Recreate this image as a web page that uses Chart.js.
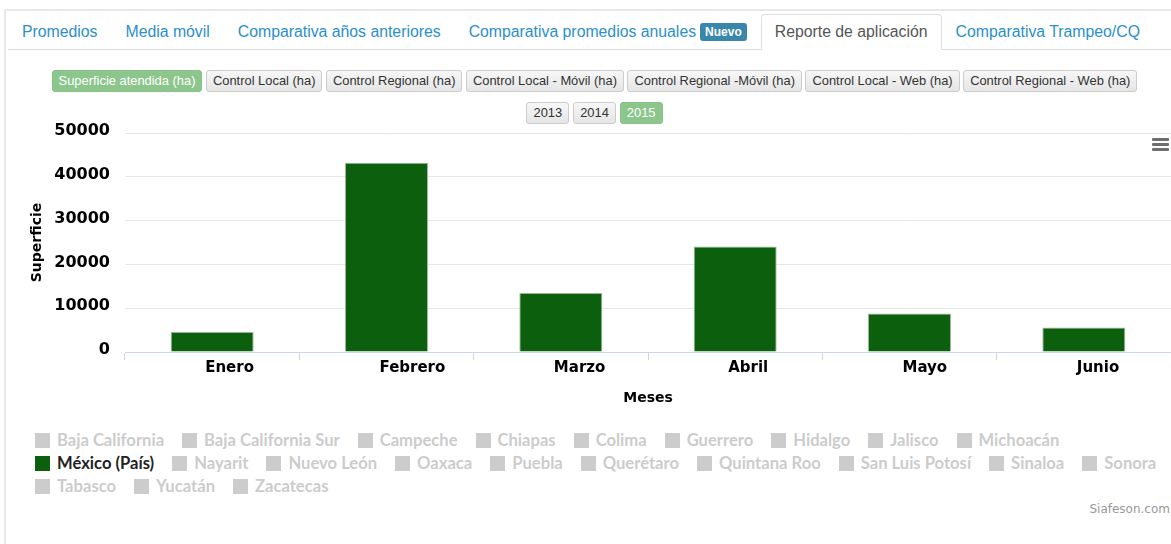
<!DOCTYPE html>
<html><head><meta charset="utf-8">
<script src="https://cdn.jsdelivr.net/npm/chart.js@4.4.1/dist/chart.umd.min.js"></script>
<style>
html,body{margin:0;padding:0;background:#fff;}
body{width:1171px;height:544px;overflow:hidden;position:relative;font-family:"Liberation Sans",Arial,sans-serif;}
#frame{position:absolute;left:4px;top:9px;width:1200px;height:600px;border-left:2px solid #e8e8e8;border-top:2px solid #e8e8e8;}
#tabs{position:absolute;left:8px;top:14px;width:1163px;height:35px;border-bottom:1px solid #ddd;display:flex;align-items:flex-start;}
.tab{box-sizing:border-box;height:36px;padding:0 13px;border:1px solid transparent;border-bottom:none;line-height:34px;font-size:15.8px;color:#2a8fcb;white-space:nowrap;border-radius:4px 4px 0 0;background:transparent;}
.tab.active{border-color:#ddd;color:#555;background:#fff;}
.badge{display:inline-block;vertical-align:1px;margin-left:4px;height:18px;line-height:18px;padding:0 5px;font-size:12px;font-weight:bold;color:#fff;background:#3a87ad;border-radius:3px;}
.row{position:absolute;left:0;width:1189px;display:flex;justify-content:center;}
#row1{top:70px;gap:3.5px;}
#row2{top:102px;gap:4px;}
.btn{box-sizing:border-box;height:22px;line-height:20px;padding:0 6px;border:1px solid #ccc;border-radius:3px;font-size:12.9px;color:#333;background:linear-gradient(#f7f7f7,#e5e5e5);white-space:nowrap;}
.btn.on{background:#8cc68c;border-color:#86c286;color:#fff;}
#chartbox{position:absolute;left:6px;top:120px;width:1165px;height:290px;}
#menu{position:absolute;left:1152px;top:138px;width:17px;}
#menu div{height:3px;background:#6e6e6e;margin-bottom:2px;border-radius:1px;}
#legend{position:absolute;left:35px;top:431px;width:1150px;display:flex;flex-wrap:wrap;row-gap:5px;font-family:Lato,sans-serif;font-weight:bold;font-size:16.6px;color:#ccc;}
.li{display:flex;align-items:center;height:18px;margin-right:18px;white-space:nowrap;}
.box{width:15px;height:15px;background:#ccc;margin-right:7px;flex:none;}
.li.on{color:#222;}
#credit{position:absolute;right:1px;top:502px;font-family:"DejaVu Sans",sans-serif;font-size:12px;color:#999;}
</style>
</head><body>
<div id="frame"></div>
<div id="tabs"></div>
<div class="row" id="row1"></div>
<div class="row" id="row2"></div>
<div id="chartbox"><canvas id="c" width="1165" height="290"></canvas></div>
<div id="menu"><div></div><div></div><div></div></div>
<div id="legend"></div>
<div id="credit">Siafeson.com</div>
<script>
const tabs = ['Promedios','Media móvil','Comparativa años anteriores','Comparativa promedios anuales','Reporte de aplicación','Comparativa Trampeo/CQ'];
const tabBadge = 'Nuevo';
const badgeTab = 3;
const activeTab = 4;
const measures = ['Superficie atendida (ha)','Control Local (ha)','Control Regional (ha)','Control Local - Móvil (ha)','Control Regional -Móvil (ha)','Control Local - Web (ha)','Control Regional - Web (ha)'];
const activeMeasure = 0;
const years = ['2013','2014','2015'];
const activeYear = '2015';

const months = ['Enero','Febrero','Marzo','Abril','Mayo','Junio'];
const superficie = [4550, 43200, 13450, 24100, 8800, 5600];
const yTickValues = [0, 10000, 20000, 30000, 40000, 50000];
const yTitle = 'Superficie';
const xTitle = 'Meses';
const states = ['Baja California','Baja California Sur','Campeche','Chiapas','Colima','Guerrero','Hidalgo','Jalisco','Michoacán','México (País)','Nayarit','Nuevo León','Oaxaca','Puebla','Querétaro','Quintana Roo','San Luis Potosí','Sinaloa','Sonora','Tabasco','Yucatán','Zacatecas'];
const activeState = 'México (País)';
const barColor = '#0c5f0c';

// tabs
const tabsEl = document.getElementById('tabs');
tabs.forEach((t,i)=>{
  const d = document.createElement('div');
  d.className = 'tab' + (i===activeTab ? ' active' : '');
  d.textContent = t;
  if (i===badgeTab){ const b=document.createElement('span'); b.className='badge'; b.textContent=tabBadge; d.appendChild(b); }
  tabsEl.appendChild(d);
});
// buttons
const r1 = document.getElementById('row1');
measures.forEach((m,i)=>{ const b=document.createElement('div'); b.className='btn'+(i===activeMeasure?' on':''); b.textContent=m; r1.appendChild(b); });
const r2 = document.getElementById('row2');
years.forEach(y=>{ const b=document.createElement('div'); b.className='btn'+(y===activeYear?' on':''); b.textContent=y; r2.appendChild(b); });

// chart
const chart = new Chart(document.getElementById('c'), {
  type: 'bar',
  data: {
    labels: months,
    datasets: [{
      label: activeState,
      data: superficie,
      backgroundColor: barColor,
      borderColor: '#9db59d',
      borderWidth: 1,
      categoryPercentage: 1,
      barPercentage: 0.476
    }]
  },
  options: {
    responsive: false,
    animation: false,
    devicePixelRatio: 1,
    layout: { padding: { top: 13, right: 0, bottom: 0, left: 0 } },
    plugins: { legend: { display: false }, tooltip: { enabled: false } },
    scales: {
      x: {
        grid: { drawOnChartArea: false, drawTicks: true, tickLength: 8, color: '#ccd6eb', offset: true },
        border: { color: '#ccd6eb' },
        ticks: { align: 'start', labelOffset: -7, padding: -1, color: '#000', autoSkip: false, maxRotation: 0,
                 font: { family: 'DejaVu Sans', weight: 'bold', size: 15 } },
        title: { display: true, text: xTitle, color: '#000', font: { family: 'DejaVu Sans', weight: 'bold', size: 14 }, padding: { top: 0, bottom: 3.6 } },
        afterFit(s){ s.height = 58; s.paddingLeft = 0; s.paddingRight = 0; }
      },
      y: {
        min: 0, max: 50000,
        afterBuildTicks(s){ s.ticks = yTickValues.map(v => ({ value: v })); },
        grid: { drawTicks: false, color: c => (c.tick && c.tick.value === 0) ? '#ccd6eb' : '#e6e6e6' },
        border: { display: false },
        ticks: { padding: 15, labelOffset: -2, color: '#000', font: { family: 'DejaVu Sans', weight: 'bold', size: 16 }, callback: v => String(v) },
        title: { display: true, text: yTitle, color: '#000', font: { family: 'DejaVu Sans', weight: 'bold', size: 14 }, padding: { top: 22.6, bottom: 0 } },
        afterFit(s){ s.width = 119; s.paddingTop = 0; s.paddingBottom = 0; }
      }
    }
  }
});

// legend (HTML, from dataset + states)
const leg = document.getElementById('legend');
states.forEach(s=>{
  const it = document.createElement('div');
  it.className = 'li' + (s===activeState ? ' on' : '');
  const bx = document.createElement('span'); bx.className='box';
  if (s===activeState) bx.style.background = chart.data.datasets[0].backgroundColor;
  const tx = document.createElement('span'); tx.textContent = s;
  it.appendChild(bx); it.appendChild(tx);
  leg.appendChild(it);
});
</script>
</body></html>
